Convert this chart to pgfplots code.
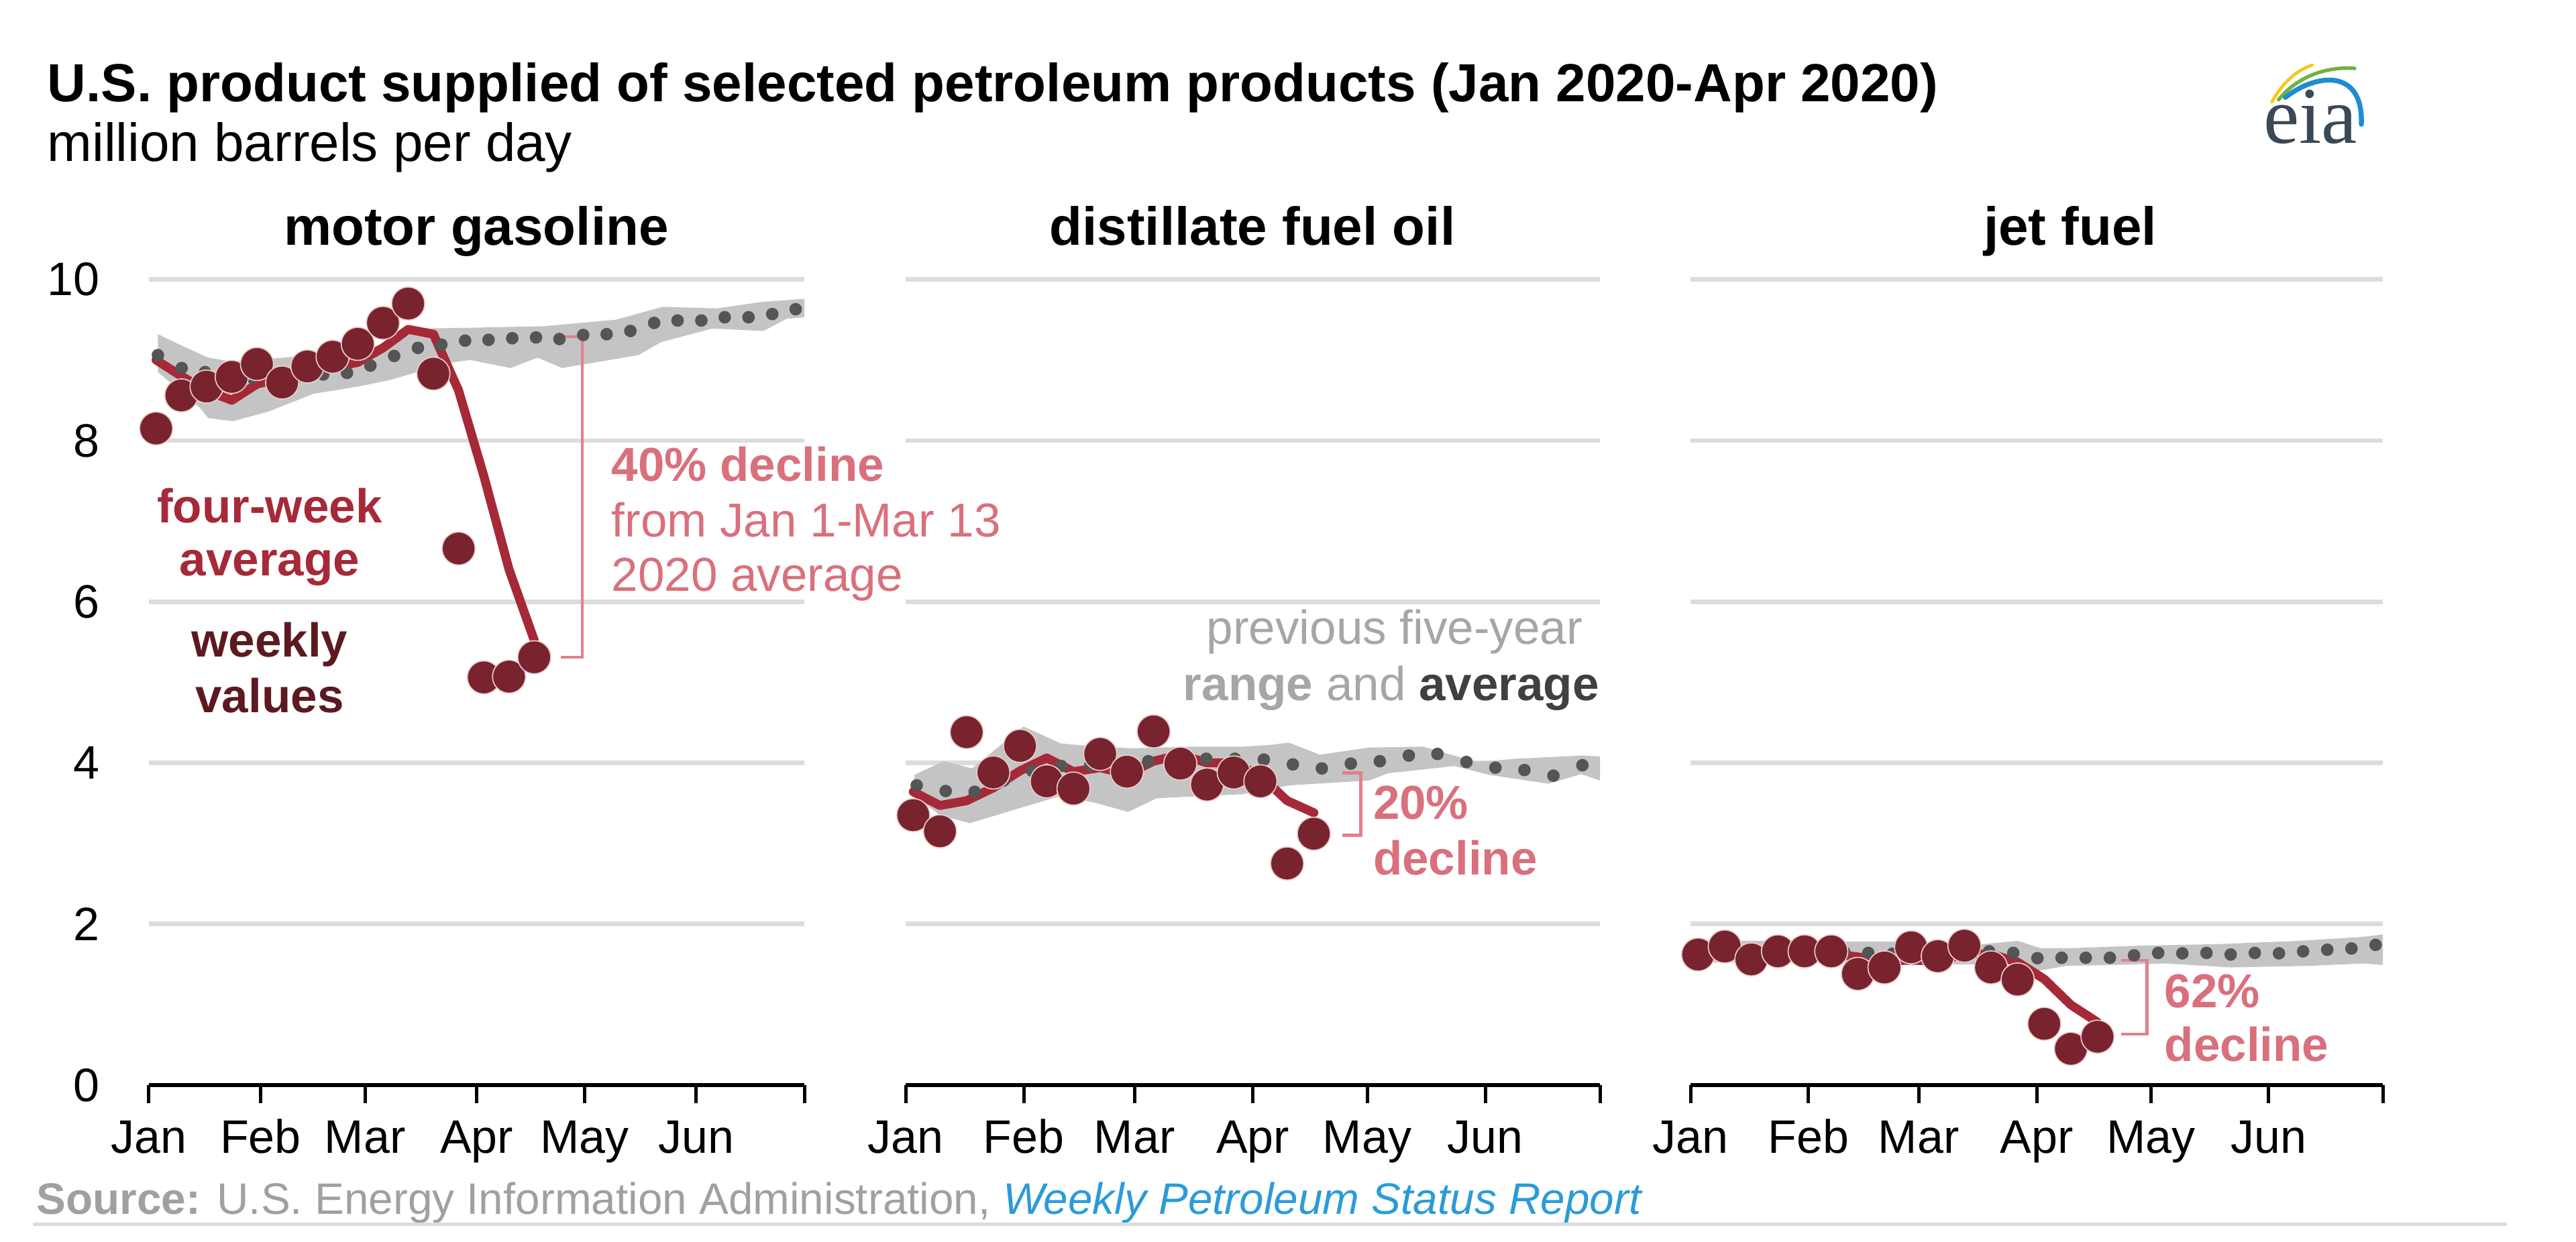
\documentclass[border=0pt]{standalone}
\usepackage{pgfplots}
\pgfplotsset{compat=1.18}
\usepackage{fontspec}
\setmainfont{Liberation Sans}
\newfontfamily\eiaserif{Liberation Serif}
\definecolor{dotred}{RGB}{120,35,45}
\definecolor{linered}{RGB}{166,41,56}
\definecolor{bandgray}{RGB}{196,196,196}
\definecolor{avggray}{RGB}{85,85,85}
\definecolor{gridgray}{RGB}{220,220,220}
\definecolor{pinktext}{RGB}{217,112,124}
\definecolor{bracketpink}{RGB}{226,128,138}
\definecolor{weeklytext}{RGB}{92,26,32}
\definecolor{rangegray}{RGB}{166,166,166}
\definecolor{avgtext}{RGB}{64,64,64}
\definecolor{srcgray}{RGB}{160,160,160}
\definecolor{srcblue}{RGB}{43,155,216}
\definecolor{eiatext}{RGB}{59,72,86}
\definecolor{eiayellow}{RGB}{245,200,30}
\definecolor{eiagreen}{RGB}{110,180,60}
\definecolor{eiablue}{RGB}{30,140,210}
\begin{document}
\begin{tikzpicture}
\path[use as bounding box] (0,0) rectangle (1152pt,555.6pt);
\pgfplotsset{
 panel/.style={
  scale only axis, height=360.4pt,
  anchor=south west,
  xmin=0, xmax=182, ymin=0, ymax=10,
  axis x line*=bottom, axis y line*=left,
  y axis line style={draw=none},
  x axis line style={line width=2pt, black, -},
  xtick={0,31,60,91,121,152,182},
  xticklabels={Jan,Feb,Mar,Apr,May,Jun,},
  ytick={0,2,4,6,8,10},
  ymajorgrids, grid style={gridgray, line width=2pt},
  tick align=outside, major tick length=8pt,
  xtick style={black, line width=1.5pt},
  ytick style={draw=none},
  tick label style={font=\fontsize{21}{25}\selectfont},
  xticklabel style={anchor=base, inner sep=0pt, yshift=-22.4pt},
  yticklabel style={anchor=east, inner sep=0pt, xshift=-14pt},
  /pgf/number format/assume math mode=true,
  clip=false,
 },
 band/.style={fill=bandgray, draw=none},
 avg5/.style={only marks, mark=*, mark size=2.6pt, color=avggray},
 fourwk/.style={no marks, line width=4pt, color=linered, line join=round, line cap=round},
 weekly/.style={only marks, mark=*, mark size=7.4pt, mark options={fill=dotred, draw={rgb,255:red,235;green,205;blue,205}, line width=0.5pt}},
}
% ---------------- panel 1: motor gasoline
\begin{axis}[panel, at={(66.6pt,70.2pt)}, width=293.1pt]
\addplot[band] coordinates {(2.5,9.32) (9,9.18) (16.4,9.03) (23,8.98) (35,9.02) (50,9.08) (62,9.15) (73.7,9.39) (89.2,9.40) (110,9.42) (129.7,9.50) (142.7,9.66) (157.7,9.64) (170.1,9.72) (182,9.76)
 (182,9.53) (177,9.51) (170.7,9.36) (156.4,9.39) (142.1,9.22) (135.9,9.06) (114.7,8.90) (107.9,9.03) (100.4,8.90) (89.2,9.00) (81,8.95) (73,8.83) (66.8,8.75) (58.1,8.67) (45.7,8.58) (33.2,8.36) (23.3,8.24) (16.4,8.28) (14.1,8.41) (2.5,8.85)} -- cycle;
\addplot[avg5] coordinates {(2.5,9.06) (9.1,8.90) (15.6,8.85) (22.2,8.80) (28.7,8.78) (35.3,8.78) (41.9,8.80) (48.4,8.82) (55.0,8.84) (61.5,8.93) (68.1,9.05) (74.7,9.15) (81.2,9.19) (87.8,9.24) (94.3,9.25) (100.9,9.27) (107.5,9.28) (114.0,9.26) (120.6,9.31) (127.1,9.32) (133.7,9.36) (140.3,9.46) (146.8,9.49) (153.4,9.49) (159.9,9.53) (166.5,9.53) (173.1,9.57) (179.6,9.63)};
\addplot[fourwk] coordinates {(2,9.00) (9,8.80) (16,8.62) (23,8.50) (30,8.70) (37,8.78) (44,8.85) (51,8.91) (58,8.97) (65,9.15) (72,9.38) (79,9.32) (86,8.62) (93,7.56) (100,6.40) (107,5.52)};
\addplot[weekly] coordinates {(2,8.15) (9,8.56) (16,8.67) (23,8.79) (30,8.95) (37,8.72) (44,8.92) (51,9.04) (58,9.20) (65,9.46) (72,9.70) (79,8.83) (86,6.66) (93,5.06) (100,5.07) (107,5.31)};
\draw[bracketpink, line width=1.3pt] (axis cs:114.4,9.29) -- (axis cs:120.3,9.29) -- (axis cs:120.3,5.31) -- (axis cs:114.4,5.31);
\end{axis}
% ---------------- panel 2: distillate
\begin{axis}[panel, at={(405pt,70.2pt)}, width=310.5pt, yticklabel=\empty]
\addplot[band] coordinates {(2.3,3.85) (9.9,4.02) (17.4,3.93) (30.9,4.45) (40.7,4.24) (50,4.20) (59.5,4.18) (75.2,4.20) (88.2,4.20) (95.2,4.22) (100.5,4.25) (108.6,4.10) (121.5,4.19) (135.7,4.20) (143.8,4.09) (149.9,4.01) (160,4.05) (177.1,4.09) (182,4.08)
 (182,3.78) (177.1,3.86) (168.5,3.74) (153,3.85) (143.8,3.96) (126.5,3.87) (121.5,3.78) (100.5,3.72) (88.2,3.61) (65.8,3.56) (58.3,3.39) (50,3.50) (40.7,3.59) (34.3,3.50) (16.8,3.25) (9,3.35) (2.3,3.59)} -- cycle;
\addplot[avg5] coordinates {(2.9,3.72) (10.5,3.65) (18.1,3.64) (25.7,3.78) (33.2,3.90) (40.8,3.96) (48.4,3.97) (56.0,3.99) (63.6,4.02) (71.2,4.04) (78.8,4.05) (86.3,4.05) (93.9,4.04) (101.5,3.98) (109.1,3.93) (116.7,3.99) (124.3,4.02) (131.9,4.09) (139.4,4.11) (147.0,4.01) (154.6,3.94) (162.2,3.91) (169.8,3.84) (177.4,3.97)};
\addplot[fourwk] coordinates {(2,3.64) (9,3.47) (16,3.53) (23,3.69) (30,3.90) (37,4.06) (44,3.89) (51,3.94) (58,3.86) (65,4.02) (72,4.10) (79,4.00) (86,4.00) (93,3.84) (100,3.53) (107,3.38)};
\addplot[weekly] coordinates {(2,3.35) (9,3.15) (16,4.38) (23,3.88) (30,4.21) (37,3.77) (44,3.68) (51,4.11) (58,3.89) (65,4.39) (72,3.99) (79,3.73) (86,3.88) (93,3.77) (100,2.75) (107,3.12)};
\draw[bracketpink, line width=1.3pt] (axis cs:114.4,3.875) -- (axis cs:119.3,3.875) -- (axis cs:119.3,3.10) -- (axis cs:114.4,3.10);
\end{axis}
% ---------------- panel 3: jet fuel
\begin{axis}[panel, at={(756pt,70.2pt)}, width=309.6pt, yticklabel=\empty]
\addplot[band] coordinates {(2,1.80) (30,1.78) (60,1.78) (75,1.74) (86,1.79) (92,1.70) (100,1.70) (118,1.73) (139,1.75) (160,1.79) (177,1.84) (182,1.87)
 (182,1.49) (177,1.51) (163,1.48) (142,1.46) (124.5,1.51) (110.6,1.49) (98.7,1.48) (91.7,1.42) (85,1.50) (70,1.50) (40,1.52) (2,1.52)} -- cycle;
\addplot[avg5] coordinates {(2.3,1.66) (8.65,1.68) (15.0,1.68) (21.35,1.67) (27.7,1.66) (34.05,1.66) (40.4,1.65) (46.75,1.64) (53.1,1.63) (59.45,1.63) (65.8,1.64) (72.15,1.65) (78.5,1.66) (84.85,1.64) (91.2,1.575) (97.55,1.58) (103.9,1.58) (110.25,1.58) (116.6,1.61) (122.95,1.64) (129.3,1.635) (135.65,1.64) (142.0,1.62) (148.35,1.64) (154.7,1.635) (161.05,1.66) (167.4,1.68) (173.75,1.695) (180.1,1.74)};
\addplot[fourwk] coordinates {(2,1.65) (9,1.66) (16,1.64) (23,1.64) (30,1.65) (37,1.635) (44,1.59) (51,1.54) (58,1.55) (65,1.54) (72,1.625) (79,1.625) (86,1.525) (93,1.315) (100,0.995) (107,0.78)};
\addplot[weekly] coordinates {(2,1.62) (9,1.72) (16,1.56) (23,1.66) (30,1.66) (37,1.66) (44,1.38) (51,1.46) (58,1.71) (65,1.60) (72,1.73) (79,1.46) (86,1.31) (93,0.76) (100,0.45) (107,0.60)};
\draw[bracketpink, line width=1.3pt] (axis cs:113.2,1.55) -- (axis cs:120,1.55) -- (axis cs:120,0.63) -- (axis cs:113.2,0.63);
\end{axis}
% ---------------- titles
\node[anchor=base west, inner sep=0pt, font=\fontsize{24}{28}\selectfont\bfseries] at (21pt,510.1pt) {U.S. product supplied of selected petroleum products (Jan 2020-Apr 2020)};
\node[anchor=base west, inner sep=0pt, font=\fontsize{24}{28}\selectfont] at (21pt,483.5pt) {million barrels per day};
\node[anchor=base, inner sep=0pt, font=\fontsize{24}{28}\selectfont\bfseries] at (213pt,445.8pt) {motor gasoline};
\node[anchor=base, inner sep=0pt, font=\fontsize{24}{28}\selectfont\bfseries] at (560.1pt,445.8pt) {distillate fuel oil};
\node[anchor=base, inner sep=0pt, font=\fontsize{24}{28}\selectfont\bfseries] at (925.8pt,445.8pt) {jet fuel};
% ---------------- annotations
\begin{scope}[every node/.style={inner sep=0pt, font=\fontsize{21.3}{25}\selectfont}]
\node[anchor=base west, text=pinktext, font=\fontsize{21.3}{25}\selectfont\bfseries] at (273.3pt,340.4pt) {40\% decline};
\node[anchor=base west, text=pinktext] at (273.3pt,315.3pt) {from Jan 1-Mar 13};
\node[anchor=base west, text=pinktext] at (273.3pt,291.2pt) {2020 average};
\node[anchor=base, text=linered, font=\fontsize{21.3}{25}\selectfont\bfseries] at (120.6pt,321.8pt) {four-week};
\node[anchor=base, text=linered, font=\fontsize{21.3}{25}\selectfont\bfseries] at (120.6pt,298.1pt) {average};
\node[anchor=base, text=weeklytext, font=\fontsize{21.3}{25}\selectfont\bfseries] at (120.6pt,261.8pt) {weekly};
\node[anchor=base, text=weeklytext, font=\fontsize{21.3}{25}\selectfont\bfseries] at (120.6pt,236.8pt) {values};
\node[anchor=base east, text=rangegray] at (707.9pt,267.5pt) {previous five-year};
\node[anchor=base east] at (715.3pt,242.1pt) {\textcolor{rangegray}{\bfseries range}\ \textcolor{rangegray}{and}\ \textcolor{avgtext}{\bfseries average}};
\node[anchor=base west, text=pinktext, font=\fontsize{21.3}{25}\selectfont\bfseries] at (613.9pt,189.0pt) {20\%};
\node[anchor=base west, text=pinktext, font=\fontsize{21.3}{25}\selectfont\bfseries] at (613.9pt,164.1pt) {decline};
\node[anchor=base west, text=pinktext, font=\fontsize{21.3}{25}\selectfont\bfseries] at (967.8pt,104.7pt) {62\%};
\node[anchor=base west, text=pinktext, font=\fontsize{21.3}{25}\selectfont\bfseries] at (967.8pt,80.8pt) {decline};
\end{scope}
% ---------------- source
\node[anchor=base west, inner sep=0pt, font=\fontsize{19.7}{24}\selectfont] at (16.2pt,12.4pt) {\textcolor{srcgray}{\bfseries Source:} \textcolor{srcgray}{U.S. Energy Information Administration,} \textcolor{srcblue}{\itshape Weekly Petroleum Status Report}};
\draw[gridgray, line width=1.5pt] (14.7pt,7.8pt) -- (1121pt,7.8pt);
% ---------------- eia logo
\node[anchor=base west, inner sep=0pt, text=eiatext, font=\eiaserif\fontsize{36}{40}\selectfont] at (1012pt,491.5pt) {eia};
\draw[eiayellow, line width=1.4pt, line cap=round] (1016pt,510pt) .. controls (1021pt,519pt) and (1027pt,524pt) .. (1034pt,526.5pt);
\draw[eiagreen, line width=1.6pt, line cap=round] (1019pt,511pt) .. controls (1027pt,521pt) and (1040pt,526pt) .. (1053pt,525pt);
\draw[eiablue, line width=2.2pt, line cap=round] (1022pt,512pt) .. controls (1036pt,523pt) and (1057pt,525pt) .. (1056pt,500pt);
\end{tikzpicture}
\end{document}
